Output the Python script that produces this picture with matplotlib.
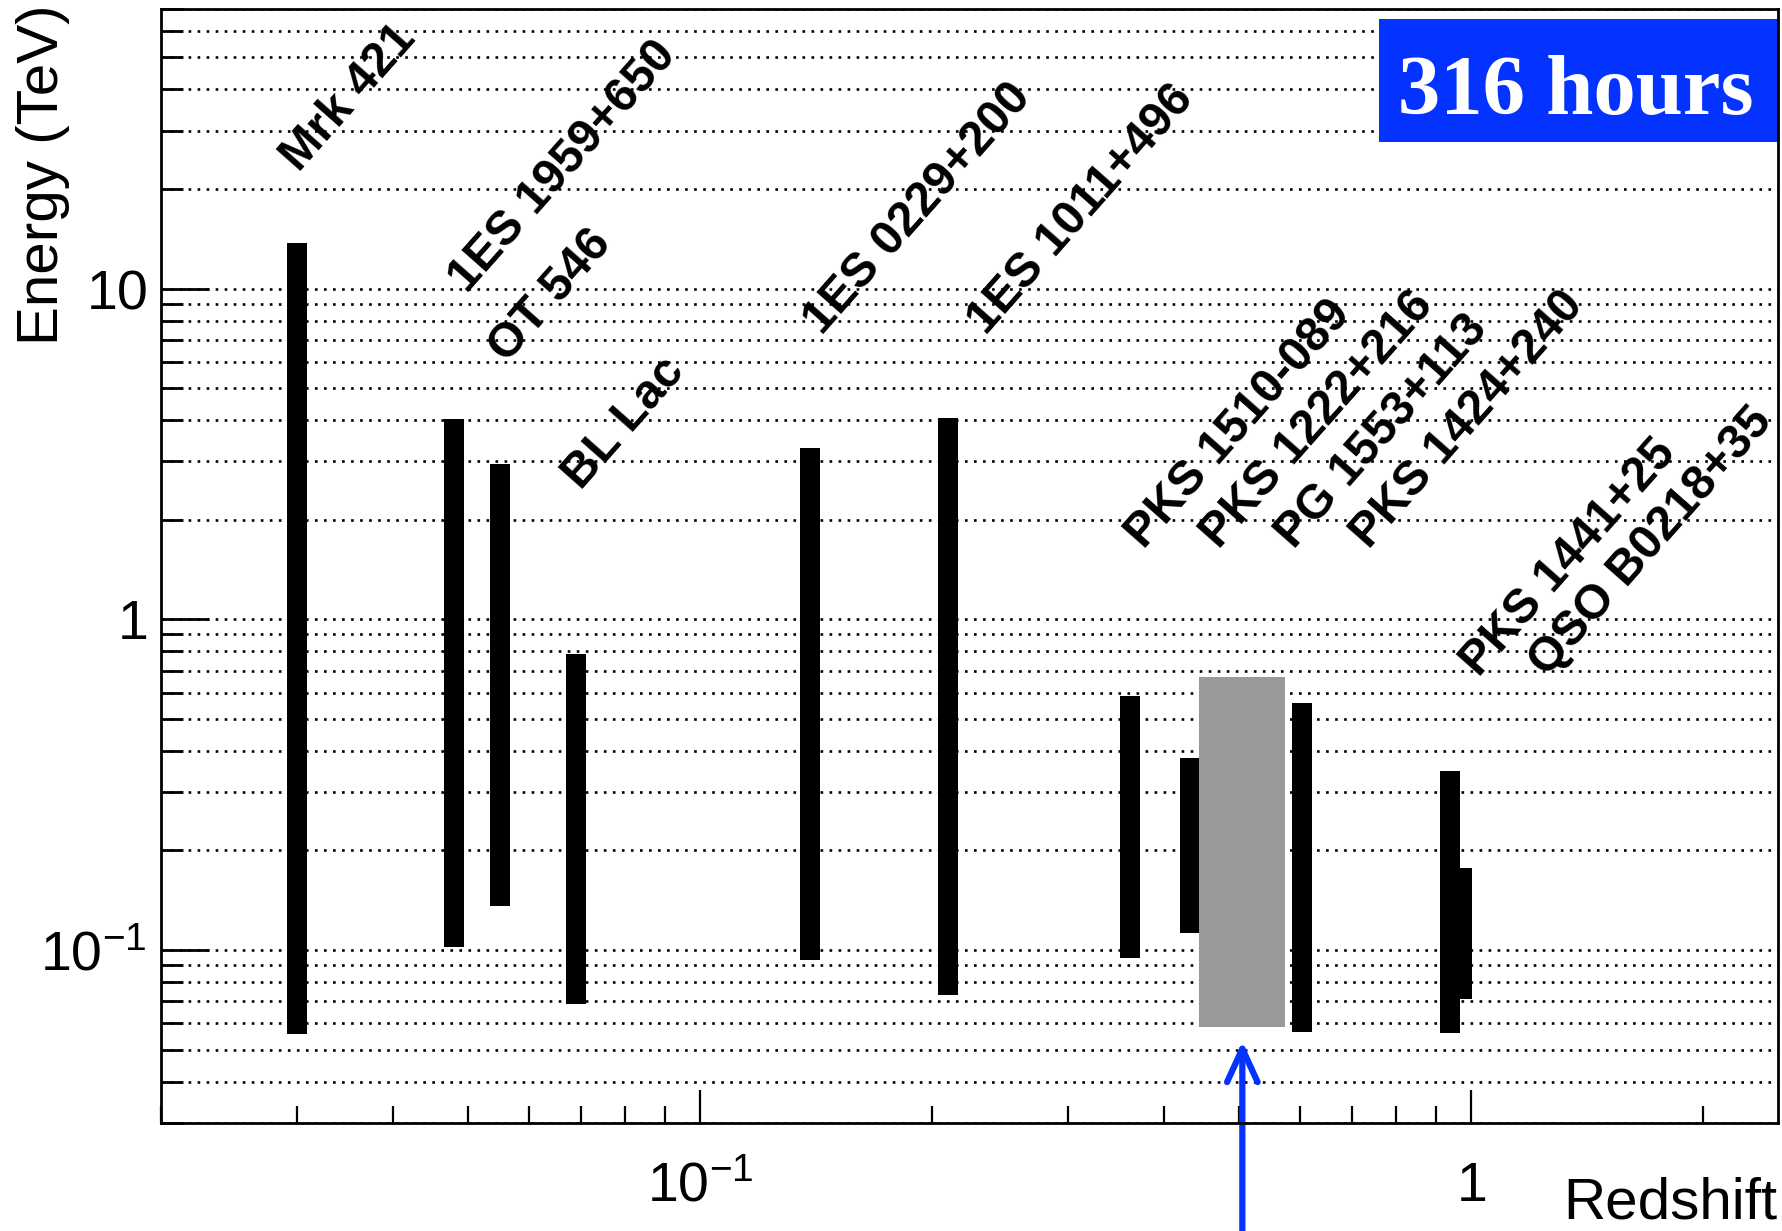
import matplotlib
matplotlib.use("Agg")
import matplotlib.pyplot as plt
from matplotlib.ticker import LogLocator, NullFormatter
from matplotlib.patches import Rectangle

plt.rcParams['font.family'] = ['Liberation Sans', 'DejaVu Sans']
plt.rcParams['mathtext.fontset'] = 'custom'
plt.rcParams['mathtext.rm'] = 'Liberation Sans'
plt.rcParams['mathtext.it'] = 'Liberation Sans:italic'
plt.rcParams['mathtext.bf'] = 'Liberation Sans:bold'
plt.rcParams['lines.scale_dashes'] = False

# ---------------- data ----------------
sources = ["Mrk 421", "1ES 1959+650", "OT 546", "BL Lac", "1ES 0229+200",
           "1ES 1011+496", "PKS 1510-089", "PKS 1222+216", "PKS 1424+240",
           "PKS 1441+25", "QSO B0218+35"]
redshift = [0.030, 0.048, 0.055, 0.069, 0.139, 0.21, 0.361, 0.432, 0.604, 0.939, 0.973]
e_min = [0.0558, 0.102, 0.1356, 0.0686, 0.0931, 0.0731, 0.0945, 0.1124, 0.0567, 0.0563, 0.0710]
e_max = [13.7, 4.04, 2.94, 0.786, 3.30, 4.05, 0.587, 0.380, 0.560, 0.349, 0.177]

pg_name = "PG 1553+113"
pg_z_range = [0.444, 0.574]
pg_e_range = [0.0587, 0.669]

arrow_z = 0.505
arrow_tip_e = 0.053

label_names = ["Mrk 421", "1ES 1959+650", "OT 546", "BL Lac", "1ES 0229+200",
               "1ES 1011+496", "PKS 1510-089", "PKS 1222+216", "PG 1553+113",
               "PKS 1424+240", "PKS 1441+25", "QSO B0218+35"]

x_limits = [0.02, 2.5]
y_limits = [0.03, 70]
x_ticks = [0.1, 1]
x_tick_labels = [r'$\mathregular{10^{-1}}$', r'$\mathregular{1}$']
y_ticks = [0.1, 1, 10]
y_tick_labels = [r'$\mathregular{10^{-1}}$', r'$\mathregular{1}$', r'$\mathregular{10}$']
x_title = "Redshift"
y_title = "Energy (TeV)"
exposure_text = "316 hours"

# ---------------- layout (axes-fraction anchors for rotated labels) ----------------
label_anchor_x = [0.0853, 0.1892, 0.2140, 0.2597, 0.4088, 0.5102,
                  0.6079, 0.6543, 0.7007, 0.7471, 0.8151, 0.8572]
label_anchor_y = [0.8532, 0.7442, 0.6813, 0.5673, 0.7065, 0.7065,
                  0.5144, 0.5144, 0.5144, 0.5144, 0.3995, 0.3995]
label_angle = 48.5

W, H = 1782, 1231
fig = plt.figure(figsize=(W / 100, H / 100), dpi=100)
ax = fig.add_axes([161 / W, 1 - 1123 / H, 1617 / W, 1114 / H])
ax.set_xscale('log')
ax.set_yscale('log')
ax.set_xlim(*x_limits)
ax.set_ylim(*y_limits)

# grid: dotted horizontal lines at every major/minor y tick
ax.set_axisbelow(True)
ax.yaxis.grid(True, which='both', color='black', linestyle=(0, (1.9, 4.6)), linewidth=1.9)
ax.xaxis.grid(False)

# bars
ax.vlines(redshift, e_min, e_max, colors='black', linewidth=14.4, capstyle='butt', zorder=3)

# PG 1553+113 uncertain redshift band
ax.fill_between(pg_z_range, pg_e_range[0], pg_e_range[1], color='#999999', linewidth=0, zorder=4)

# arrow from below the axes
ax.annotate('', xy=(arrow_z, arrow_tip_e), xycoords='data',
            xytext=(arrow_z, 0.0), textcoords=('data', 'figure fraction'),
            arrowprops=dict(arrowstyle='->,head_length=24,head_width=11', color='#0433ff',
                            lw=4.5, shrinkA=0, shrinkB=0, mutation_scale=1,
                            capstyle='round', joinstyle='round'),
            annotation_clip=False, zorder=6)

# rotated labels
for name, lx, ly in zip(label_names, label_anchor_x, label_anchor_y):
    ax.text(lx, ly, name, transform=ax.transAxes, rotation=label_angle, rotation_mode='anchor',
            ha='left', va='baseline', fontsize=34.5, fontweight='bold', color='black', zorder=5)

# exposure box
ax.add_patch(Rectangle((0.7532, 0.8806), 0.2468, 0.1104, transform=ax.transAxes,
                       facecolor='#0433ff', edgecolor='none', zorder=5))
ax.text(0.8751, 0.9057, exposure_text, transform=ax.transAxes, ha='center', va='baseline',
        fontsize=61, fontweight='bold', family='Liberation Serif', color='white', zorder=6)

# ticks
ax.set_xticks(x_ticks)
ax.set_xticklabels(x_tick_labels)
ax.set_yticks(y_ticks)
ax.set_yticklabels(y_tick_labels)
ax.xaxis.set_minor_locator(LogLocator(base=10, subs=range(2, 10), numticks=30))
ax.yaxis.set_minor_locator(LogLocator(base=10, subs=range(2, 10), numticks=30))
ax.xaxis.set_minor_formatter(NullFormatter())
ax.yaxis.set_minor_formatter(NullFormatter())

ax.tick_params(axis='y', which='major', direction='in', length=34.5, width=2,
               left=True, right=False, pad=10, labelsize=40)
ax.tick_params(axis='y', which='minor', direction='in', length=16, width=2,
               left=True, right=False)
ax.tick_params(axis='x', which='major', direction='in', length=24, width=1.6,
               bottom=True, top=False, pad=56, labelsize=40)
ax.tick_params(axis='x', which='minor', direction='in', length=12, width=1.6,
               bottom=True, top=False)
for lbl in ax.get_xticklabels():
    lbl.set_verticalalignment('baseline')

for sp in ax.spines.values():
    sp.set_linewidth(2)
    sp.set_zorder(7)

# axis titles
ax.text(-0.0635, 1.004, y_title, transform=ax.transAxes, rotation=90, rotation_mode='anchor',
        ha='right', va='baseline', fontsize=42)
ax.text(0.9994, -0.0858, x_title, transform=ax.transAxes, ha='right', va='baseline', fontsize=42)

fig.savefig('out.png', dpi=100)
